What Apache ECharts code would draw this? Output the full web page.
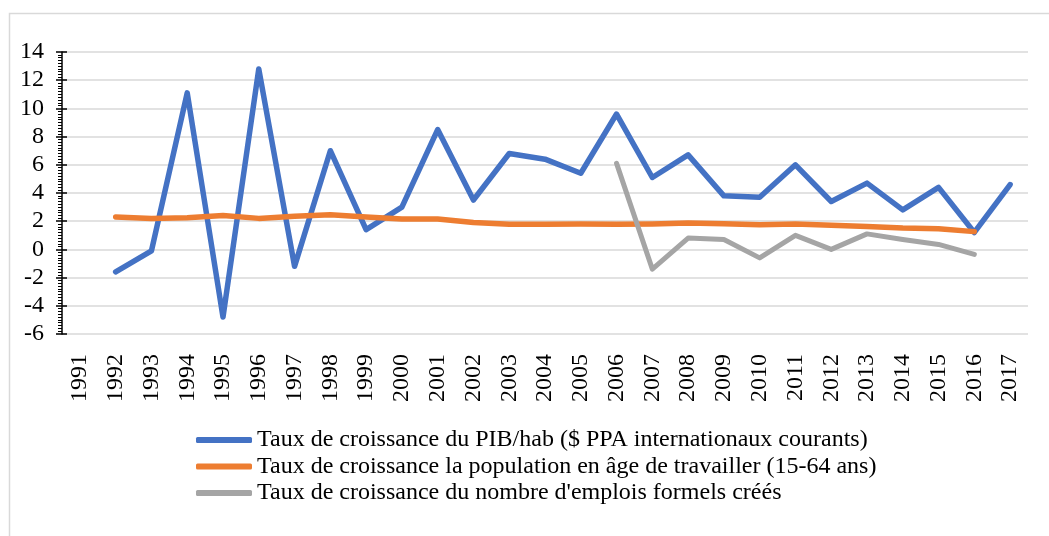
<!DOCTYPE html>
<html>
<head>
<meta charset="utf-8">
<title>Taux de croissance</title>
<script src="https://cdn.jsdelivr.net/npm/echarts@6/dist/echarts.min.js"></script>
<style>
  html, body { margin: 0; padding: 0; background: #fff; }
  #chart { width: 1049px; height: 536px; }
</style>
</head>
<body>
<div id="chart"></div>
<script>
const years = ['1991', '1992', '1993', '1994', '1995', '1996', '1997', '1998', '1999', '2000',
  '2001', '2002', '2003', '2004', '2005', '2006', '2007', '2008', '2009', '2010',
  '2011', '2012', '2013', '2014', '2015', '2016', '2017']

// croissance du PIB/hab
const pibHab = [null, -1.6, -0.1, 11.1, -4.8, 12.8, -1.2, 7.0, 1.4, 3.0,
  8.5, 3.5, 6.8, 6.4, 5.4, 9.6, 5.1, 6.7, 3.8, 3.7,
  6.0, 3.4, 4.7, 2.8, 4.4, 1.2, 4.6]

// population en âge de travailler
const population = [null, 2.3, 2.2, 2.25, 2.4, 2.2, 2.35, 2.45, 2.3, 2.15,
  2.15, 1.9, 1.78, 1.78, 1.8, 1.78, 1.8, 1.87, 1.82, 1.75,
  1.8, 1.72, 1.63, 1.52, 1.47, 1.26, null]

// emplois formels créés
const emplois = [null, null, null, null, null, null, null, null, null, null,
  null, null, null, null, null, 6.1, -1.4, 0.8, 0.7, -0.6,
  1.0, 0.0, 1.1, 0.7, 0.35, -0.35, null]

const seriesNames = [
  'Taux de croissance du PIB/hab ($ PPA internationaux courants)',
  'Taux de croissance la population en âge de travailler (15-64 ans)',
  "Taux de croissance du nombre d'emplois formels créés"
]

const font = "'Liberation Serif', 'Times New Roman', serif"

const chart = echarts.init(document.getElementById('chart'))

const lineSeries = (name, data, color, width) => ({
  name,
  type: 'line',
  data,
  symbol: 'none',
  connectNulls: false,
  lineStyle: { color, width, cap: 'round', join: 'round' },
  itemStyle: { color }
})

chart.setOption({
  animation: false,
  textStyle: { fontFamily: font },
  graphic: [{
    type: 'rect',
    shape: { x: 9.5, y: 13.5, width: 1100, height: 600 },
    style: { fill: 'none', stroke: '#d9d9d9', lineWidth: 1.5 },
    silent: true
  }],
  grid: { left: 62, right: 21, top: 52, bottom: 202 },
  legend: {
    orient: 'vertical',
    left: 191,
    top: 423,
    icon: 'roundRect',
    itemWidth: 56,
    itemHeight: 6,
    itemGap: 2.5,
    data: seriesNames,
    textStyle: { fontFamily: font, fontSize: 24, color: '#000', lineHeight: 24 }
  },
  xAxis: {
    type: 'category',
    data: years,
    boundaryGap: true,
    axisLine: { show: false },
    axisTick: { show: false },
    axisLabel: { rotate: 90, margin: 20, fontSize: 24, color: '#000', fontFamily: font, interval: 0 }
  },
  yAxis: [{
    type: 'value',
    min: -6,
    max: 14,
    interval: 2,
    axisLine: { show: true, lineStyle: { color: '#000', width: 1.5 } },
    axisTick: { show: true, length: 6, lineStyle: { color: '#000', width: 1.5 } },
    minorTick: { show: true, splitNumber: 10, length: 4, lineStyle: { color: '#000', width: 1 } },
    axisLabel: { margin: 18, fontSize: 24, color: '#000', fontFamily: font },
    splitLine: { lineStyle: { color: '#d9d9d9', width: 1.5 } }
  }, {
    type: 'value',
    position: 'left',
    min: -6,
    max: 14,
    interval: 2,
    axisLine: { show: false },
    axisTick: { show: true, inside: true, length: 5, lineStyle: { color: '#000', width: 1.5 } },
    axisLabel: { show: false },
    splitLine: { show: false }
  }],
  series: [
    lineSeries(seriesNames[0], pibHab, '#4472c4', 5.5),
    lineSeries(seriesNames[1], population, '#ed7d31', 5.5),
    lineSeries(seriesNames[2], emplois, '#a5a5a5', 5)
  ]
})

window.addEventListener('resize', () => chart.resize())
</script>
</body>
</html>
